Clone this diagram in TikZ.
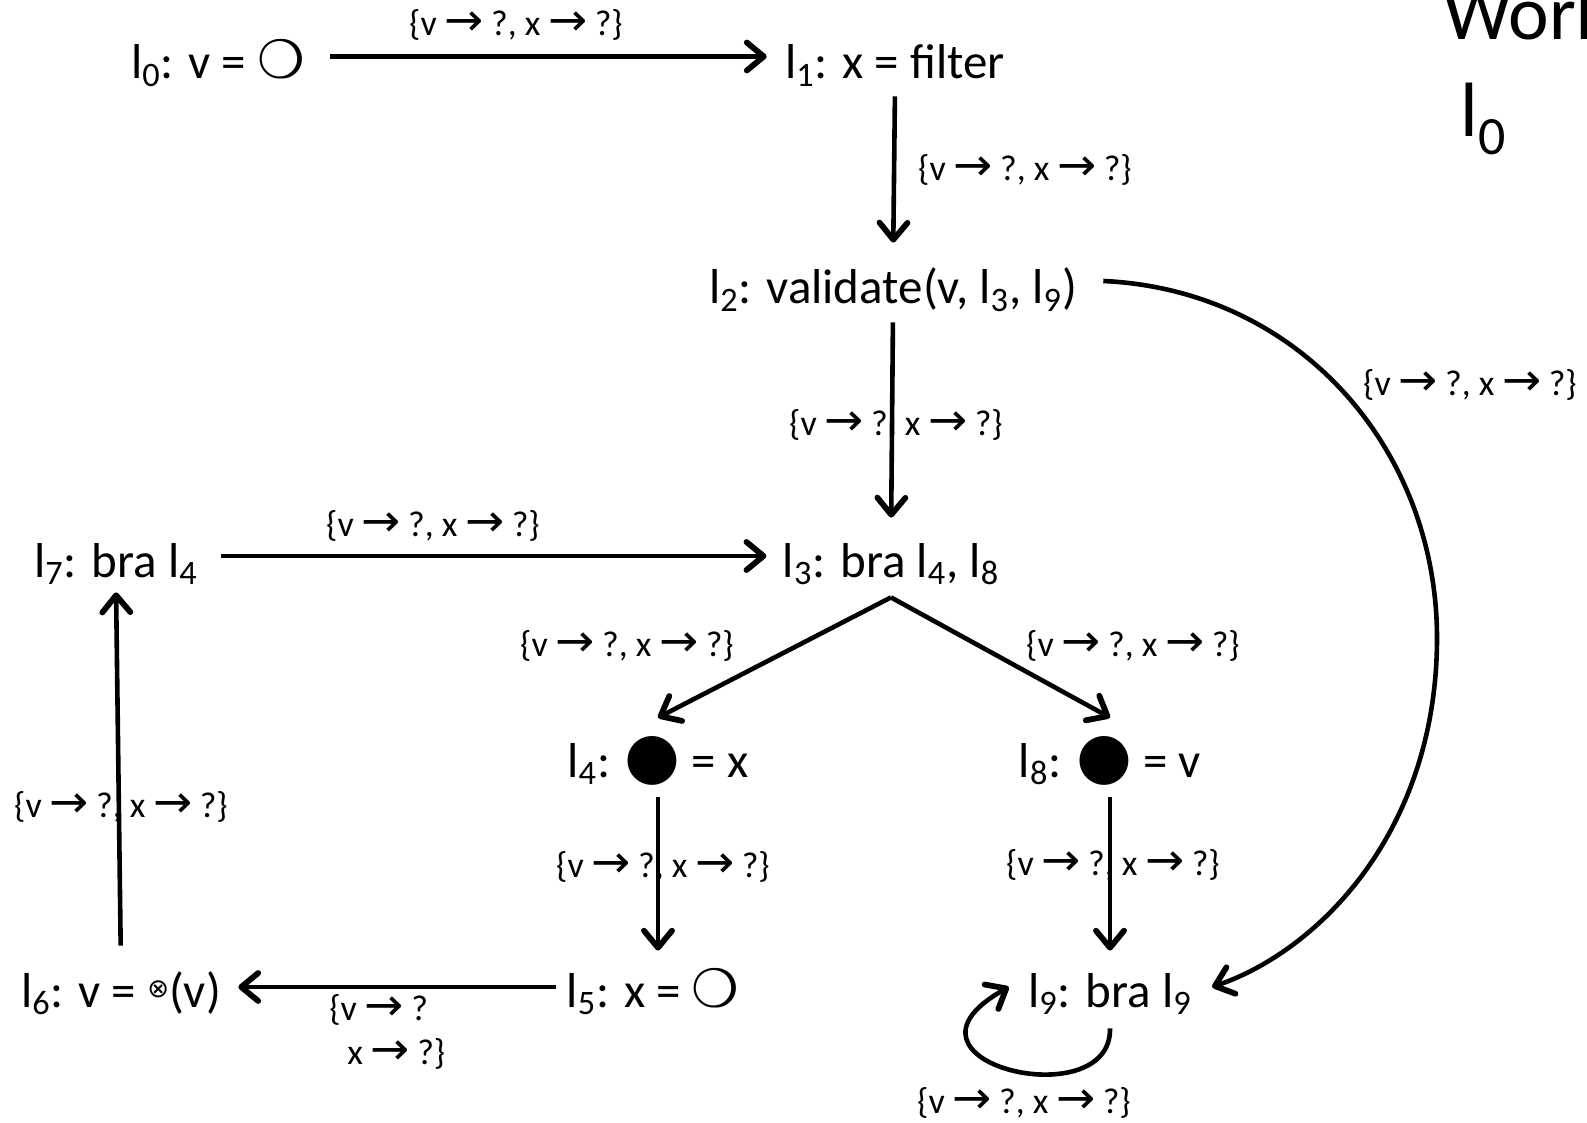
\documentclass[tikz,border=0pt]{standalone}
\usepackage{graphicx}
\usepackage{fontspec}
\setmainfont{Carlito}
\newfontfamily\symfont{DejaVu Sans}
\usetikzlibrary{arrows.meta}

\newcommand{\lbl}[1]{l\textsubscript{#1}}
\newcommand{\toarr}{\makebox[19pt]{\scalebox{1.3}[1.25]{\symfont →}}}
\newcommand{\vxfacts}{\{v \toarr{} ?, x \toarr{} ?\}}
\newcommand{\hollow}{{\symfont\fontsize{26.5}{30}\selectfont ❍}}
\newcommand{\hole}{{\symfont\fontsize{32}{32}\selectfont ●}}

\tikzset{
  stmt/.style={font=\fontsize{24.5}{30}\selectfont, inner sep=0pt, text height=18pt, text depth=4.5pt, anchor=base},
  facts/.style={font=\fontsize{18}{22}\selectfont, inner sep=0pt},
  slide/.style={font=\fontsize{38.5}{46}\selectfont, inner sep=0pt, anchor=base west},
  flow/.style={line width=2.3pt, -{Straight Barb[length=8.5pt,width=14pt,line width=2.9pt,round]}},
}

\begin{document}
\begin{tikzpicture}[x=0.5pt, y=-0.5pt]
\useasboundingbox (0,0) rectangle (1587,1123);
% statements
\node[stmt] (l0) at (218,79) {\lbl{0}: v = \hollow};
\node[stmt] (l1) at (895,79) {\lbl{1}: x = filter};
\node[stmt] (l2) at (893,304) {\lbl{2}: validate(v, \lbl{3}, \lbl{9})};
\node[stmt] (l3) at (891,577) {\lbl{3}: bra \lbl{4}, \lbl{8}};
\node[stmt] (l7) at (116,577) {\lbl{7}: bra \lbl{4}};
\node[stmt] (l4) at (658,777) {\lbl{4}: \hole{} = x};
\node[stmt] (l8) at (1110,777) {\lbl{8}: \hole{} = v};
\node[stmt] (l5) at (653,1007) {\lbl{5}: x = \hollow};
\node[stmt] (l6) at (121,1007) {\lbl{6}: v = \raisebox{5pt}{\symfont\fontsize{13}{13}\selectfont ⊗}(v)};
\node[stmt] (l9) at (1110,1007) {\lbl{9}: bra \lbl{9}};
% worklist (slide text, cut by the page)
\node[slide] (wl) at (1443,40) {Worklist};
\node[slide] (wl0) at (1460,137) {\lbl{0}};
% flow edges
\draw[flow, shorten <=12.5pt, shorten >=9pt] ([yshift=4.5pt]l0.east) -- ([yshift=4.5pt]l1.west);
\draw[flow, shorten <=4pt, shorten >=12.5pt] (l1.south) -- (l2.north);
\draw[flow, shorten <=4.5pt, shorten >=11.5pt] (l2.south) -- (l3.north);
\draw[flow, shorten <=11.5pt, shorten >=8pt] ([yshift=3.75pt]l7.east) -- ([yshift=3.75pt]l3.west);
\draw[flow] ([yshift=-5.5pt]l3.south) -- ([yshift=11.5pt]l4.north);
\draw[flow] ([yshift=-5.5pt]l3.south) -- ([yshift=11.5pt]l8.north);
\draw[flow, shorten <=5.5pt, shorten >=10pt] (l4.south) -- (l4.south |- l5.north);
\draw[flow, shorten <=5.5pt, shorten >=10pt] (l8.south) -- (l9.north);
\draw[flow, shorten <=5pt, shorten >=8.5pt] ([yshift=3.25pt]l5.west) -- ([yshift=3.25pt]l6.east);
\draw[flow, shorten <=12.5pt, shorten >=3pt] (l6.north) -- (l7.south);
\coordinate (bend) at (1437,638);
\draw[flow] ([shift={(13pt,4.75pt)}]l2.east) .. controls (1300,290) and (1437,450) .. (bend)
  .. controls (1437,830) and (1320,950) .. ([shift={(10pt,3.25pt)}]l9.east);
\draw[flow] ([yshift=-6pt]l9.south) .. controls (1112,1118) and (875,1062) .. ([shift={(-9.5pt,3.25pt)}]l9.west);
% facts on the edges
\node[facts] (f01) at (516,25) {\vxfacts};
\node[facts] (f12) at (1025,170) {\vxfacts};
\node[facts] (f23) at (896,425) {\vxfacts};
\node[facts] (f73) at (433,526) {\vxfacts};
\node[facts] (f34) at (627,646) {\vxfacts};
\node[facts] (f38) at (1133,646) {\vxfacts};
\node[facts] (f45) at (663,867) {\vxfacts};
\node[facts] (f89) at (1113,865) {\vxfacts};
\node[facts, align=left, anchor=north west] (f56) at (329,994) {\{v \toarr{} ?\\\hspace*{9pt}x \toarr{} ?\}};
\node[facts] (f67) at (121,807) {\vxfacts};
\node[facts] (f29) at (1470,385) {\vxfacts};
\node[facts] (f99) at (1024,1103) {\vxfacts};
\end{tikzpicture}
\end{document}
